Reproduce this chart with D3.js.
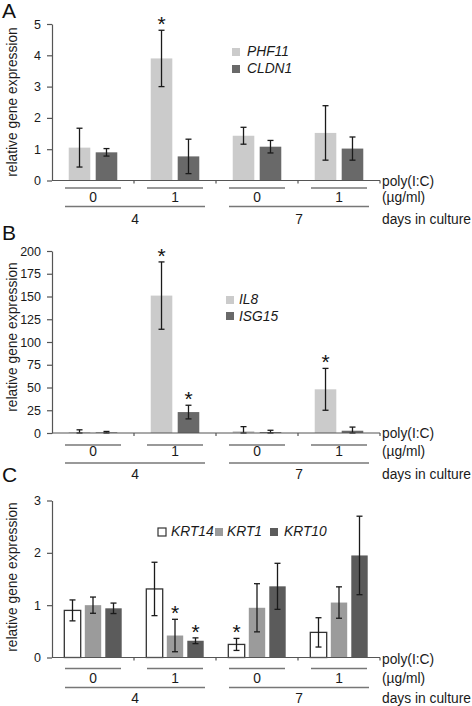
<!DOCTYPE html>
<html><head><meta charset="utf-8">
<script src="https://cdn.jsdelivr.net/npm/d3@7"></script>
<style>
body{margin:0;background:#fff;}
svg{display:block;font-family:"Liberation Sans",Arial,sans-serif;}
</style></head>
<body><svg id="chart" width="472" height="706"></svg>
<script>
// ---------- data ----------
const groups = ["4-0", "4-1", "7-0", "7-1"];
const doseLabels = ["0", "1", "0", "1"];
const dayLabels = ["4", "7"];

// Panel A
const seriesA = ["PHF11", "CLDN1"];
const phf11 = [1.05, 3.9, 1.43, 1.52];
const phf11Err = [0.62, 0.9, 0.27, 0.87];
const phf11Sig = [0, 1, 0, 0];
const cldn1 = [0.9, 0.77, 1.08, 1.02];
const cldn1Err = [0.12, 0.55, 0.2, 0.37];
const cldn1Sig = [0, 0, 0, 0];
const ticksA = [0, 1, 2, 3, 4, 5];

// Panel B
const seriesB = ["IL8", "ISG15"];
const il8 = [1, 151, 2, 48];
const il8Err = [2.5, 37, 5, 23];
const il8Sig = [0, 1, 0, 1];
const isg15 = [0.7, 23, 1, 2.5];
const isg15Err = [1, 7.5, 2, 4];
const isg15Sig = [0, 1, 0, 0];
const ticksB = [0, 25, 50, 75, 100, 125, 150, 175, 200];

// Panel C
const seriesC = ["KRT14", "KRT1", "KRT10"];
const krt14 = [0.9, 1.31, 0.25, 0.48];
const krt14Err = [0.2, 0.51, 0.115, 0.28];
const krt14Sig = [0, 0, 1, 0];
const krt1 = [1.0, 0.42, 0.95, 1.05];
const krt1Err = [0.155, 0.31, 0.46, 0.3];
const krt1Sig = [0, 1, 0, 0];
const krt10 = [0.94, 0.32, 1.36, 1.95];
const krt10Err = [0.1, 0.055, 0.44, 0.75];
const krt10Sig = [0, 1, 0, 0];
const ticksC = [0, 1, 2, 3];

// ---------- drawing ----------
const svg = d3.select("#chart");
svg.append("rect").attr("width", 472).attr("height", 706).attr("fill", "#fff");

const xLeft = 52, xRight = 380;
const x0 = d3.scaleBand().domain(groups).range([xLeft, xRight]).padding(0);
const FS = 13.8;

function drawPanel(cfg) {
  const g = svg.append("g");
  const y = d3.scaleLinear().domain([0, cfg.max]).range([cfg.y0, cfg.yTop]);
  const x1 = d3.scaleBand().domain(cfg.series).range([0, x0.bandwidth()])
    .paddingInner(cfg.pIn).paddingOuter(cfg.pOut);

  // panel letter
  g.append("text").attr("x", 2).attr("y", cfg.letterY).attr("font-size", 21)
    .attr("fill", "#111").text(cfg.letter);

  // y label
  g.append("text").attr("transform", `translate(17,${cfg.labelMid}) rotate(-90)`)
    .attr("text-anchor", "middle").attr("font-size", FS).attr("fill", "#1a1a1a")
    .text("relative gene expression");

  // y axis
  const ya = g.append("g").attr("transform", `translate(${xLeft},0)`)
    .call(d3.axisLeft(y).tickValues(cfg.ticks).tickFormat(d3.format("d"))
      .tickSize(5).tickPadding(6).tickSizeOuter(0));
  ya.select(".domain").attr("stroke", "#555").attr("stroke-width", 1.2);
  ya.selectAll(".tick line").attr("stroke", "#555").attr("stroke-width", 1.2);
  ya.selectAll(".tick text").attr("font-size", 12.5).attr("fill", "#1a1a1a")
    .attr("font-family", "Liberation Sans, Arial, sans-serif");

  // bars
  cfg.series.forEach((s, si) => {
    const vals = cfg.values[si], errs = cfg.errs[si], sig = cfg.sig[si];
    groups.forEach((grp, gi) => {
      const bx = x0(grp) + x1(s);
      const bw = x1.bandwidth();
      const st = cfg.strokes[si];
      g.append("rect").attr("x", bx).attr("y", y(vals[gi]))
        .attr("width", bw).attr("height", cfg.y0 - y(vals[gi]))
        .attr("fill", cfg.colors[si])
        .attr("stroke", st || "none").attr("stroke-width", st ? 1.3 : 0);
      const cx = bx + bw / 2;
      const hi = vals[gi] + errs[gi], lo = Math.max(0, vals[gi] - errs[gi]);
      const eg = g.append("g").attr("stroke", "#1a1a1a").attr("stroke-width", 1.3);
      eg.append("line").attr("x1", cx).attr("x2", cx).attr("y1", y(hi)).attr("y2", y(lo));
      eg.append("line").attr("x1", cx - 3).attr("x2", cx + 3).attr("y1", y(hi)).attr("y2", y(hi));
      eg.append("line").attr("x1", cx - 3).attr("x2", cx + 3).attr("y1", y(lo)).attr("y2", y(lo));
      if (sig[gi]) {
        g.append("text").attr("x", cx).attr("y", y(hi) + 1)
          .attr("text-anchor", "middle").attr("font-size", 21).attr("fill", "#111")
          .text("*");
      }
    });
  });

  // x axis line + group ticks
  g.append("line").attr("x1", xLeft).attr("x2", xRight).attr("y1", cfg.y0).attr("y2", cfg.y0)
    .attr("stroke", "#555").attr("stroke-width", 1.2);
  groups.slice(1).concat([null]).forEach((grp) => {
    const xx = grp ? x0(grp) : xRight;
    g.append("line").attr("x1", xx).attr("x2", xx).attr("y1", cfg.y0).attr("y2", cfg.y0 + 3)
      .attr("stroke", "#555").attr("stroke-width", 1.2);
  });

  // dose underline + labels
  groups.forEach((grp, gi) => {
    const c = x0(grp) + x0.bandwidth() / 2;
    g.append("line").attr("x1", c - 28).attr("x2", c + 28)
      .attr("y1", cfg.y0 + cfg.off[0]).attr("y2", cfg.y0 + cfg.off[0])
      .attr("stroke", "#777").attr("stroke-width", 1.3);
    g.append("text").attr("x", c).attr("y", cfg.y0 + cfg.off[1]).attr("text-anchor", "middle")
      .attr("font-size", FS).attr("fill", "#1a1a1a").text(doseLabels[gi]);
  });
  // day underline + labels
  dayLabels.forEach((d, di) => {
    const a = x0(groups[di * 2]) + x0.bandwidth() / 2 - 28;
    const b = x0(groups[di * 2 + 1]) + x0.bandwidth() / 2 + 30;
    g.append("line").attr("x1", a).attr("x2", b)
      .attr("y1", cfg.y0 + cfg.off[2]).attr("y2", cfg.y0 + cfg.off[2])
      .attr("stroke", "#777").attr("stroke-width", 1.3);
    g.append("text").attr("x", (a + b) / 2).attr("y", cfg.y0 + cfg.off[3]).attr("text-anchor", "middle")
      .attr("font-size", FS).attr("fill", "#1a1a1a").text(d);
  });
  // right labels
  const rl = [["poly(I:C)", cfg.off[4]], ["(\u00b5g/ml)", cfg.off[1]], ["days in culture", cfg.off[3]]];
  rl.forEach(([t, o]) => {
    g.append("text").attr("x", 382).attr("y", cfg.y0 + o).attr("font-size", FS)
      .attr("fill", "#1a1a1a").text(t);
  });

  // legend
  cfg.series.forEach((s, si) => {
    const L = cfg.legend[si];
    g.append("rect").attr("x", L[0]).attr("y", L[1]).attr("width", 8).attr("height", 8)
      .attr("fill", cfg.colors[si])
      .attr("stroke", cfg.strokes[si] || "none").attr("stroke-width", cfg.strokes[si] ? 1.2 : 0);
    g.append("text").attr("x", L[2]).attr("y", L[3]).attr("font-size", FS)
      .attr("font-style", "italic").attr("fill", "#1a1a1a").text(s);
  });
}

drawPanel({
  letter: "A", letterY: 18, labelMid: 102,
  max: 5, y0: 180.5, yTop: 24, ticks: ticksA,
  series: seriesA, values: [phf11, cldn1], errs: [phf11Err, cldn1Err], sig: [phf11Sig, cldn1Sig],
  colors: ["#cbcbcb", "#696969"], strokes: [null, null],
  pIn: 0.2, pOut: 0.62,
  off: [7.5, 21.5, 26, 43, 5],
  legend: [[232, 48, 247, 56], [232, 65, 247, 73]]
});

drawPanel({
  letter: "B", letterY: 240, labelMid: 337,
  max: 200, y0: 433, yTop: 251, ticks: ticksB,
  series: seriesB, values: [il8, isg15], errs: [il8Err, isg15Err], sig: [il8Sig, isg15Sig],
  colors: ["#cbcbcb", "#696969"], strokes: [null, null],
  pIn: 0.2, pOut: 0.62,
  off: [12, 23, 30, 46, 5],
  legend: [[226, 296, 239, 304], [226, 312, 239, 321]]
});

drawPanel({
  letter: "C", letterY: 482, labelMid: 577,
  max: 3, y0: 657.5, yTop: 500.5, ticks: ticksC,
  series: seriesC, values: [krt14, krt1, krt10], errs: [krt14Err, krt1Err, krt10Err],
  sig: [krt14Sig, krt1Sig, krt10Sig],
  colors: ["#ffffff", "#9b9b9b", "#5b5b5b"], strokes: ["#333", null, null],
  pIn: 0.2, pOut: 0.6,
  off: [11, 25.5, 30, 45.5, 6],
  legend: [[158, 528, 171, 536], [215, 528, 227, 536], [270, 528, 284, 536]]
});
</script></body></html>
